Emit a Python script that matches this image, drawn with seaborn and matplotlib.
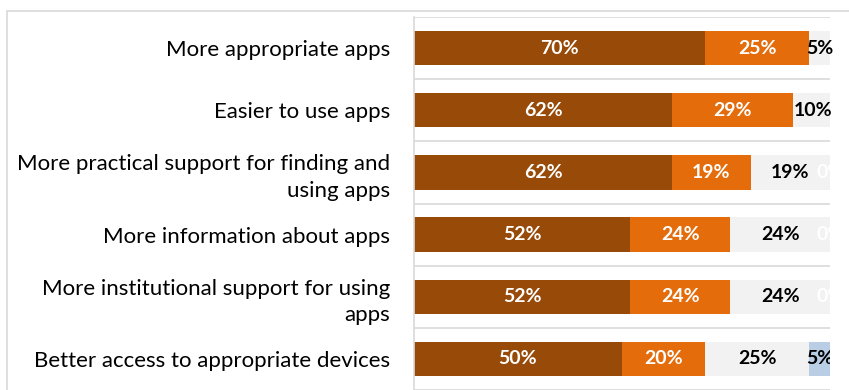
import matplotlib
matplotlib.use("Agg")
import matplotlib.pyplot as plt
import seaborn as sns
import pandas as pd
import numpy as np
from matplotlib.patches import Rectangle

categories = [
    "More appropriate apps",
    "Easier to use apps",
    "More practical support for finding and\nusing apps",
    "More information about apps",
    "More institutional support for using\napps",
    "Better access to appropriate devices",
]
s1 = [70, 62, 62, 52, 52, 50]
s2 = [25, 29, 19, 24, 24, 20]
s3 = [5, 10, 19, 24, 24, 25]
s4 = [0, 0, 0, 0, 0, 5]
labels4 = [None, None, "0%", "0%", "0%", "5%"]

colors = ["#984A08", "#E46C0A", "#F2F2F2", "#B9CDE5"]
text_colors = ["white", "white", "black", "black"]

sns.set_theme(style="white")
plt.rcParams["font.family"] = ["Lato", "DejaVu Sans"]

series = [s1, s2, s3, s4]
cum = np.cumsum(np.array(series, dtype=float), axis=0)

fig = plt.figure(figsize=(8.49, 3.90), dpi=100)
ax = fig.add_axes([414 / 849, 0.0, (830 - 414) / 849, 1 - 17 / 390])

# stacked by overlaying cumulative totals (largest first)
for i in range(3, -1, -1):
    df = pd.DataFrame({"cat": categories, "val": cum[i]})
    sns.barplot(data=df, y="cat", x="val", color=colors[i], orient="h",
                width=0.55, ax=ax, saturation=1, linewidth=0)

ax.set_xlim(0, 100)
ax.set_ylim(5.5, -0.5)
ax.set_xlabel("")
ax.set_ylabel("")
ax.set_xticks([])
for sp in ["top", "right", "bottom"]:
    ax.spines[sp].set_visible(False)
ax.spines["left"].set_color("#D9D9D9")
ax.spines["left"].set_linewidth(1.2)

for b in np.arange(-0.5, 6.0, 1.0):
    ax.axhline(b, color="#D9D9D9", lw=1.2, zorder=0)

ax.tick_params(axis="y", length=0, pad=17, labelsize=16, colors="black")
for t in ax.get_yticklabels():
    t.set_multialignment("right")
    t.set_linespacing(1.4)

# labels
for r in range(len(categories)):
    starts = [0] + list(cum[:-1, r])
    for i in range(4):
        v = series[i][r]
        center = starts[i] + v / 2
        if i < 3:
            txt = f"{v}%"
            ax.text(center, r, txt, ha="center", va="center", color=text_colors[i],
                    fontsize=14, fontweight="bold")
        else:
            if labels4[r] is None:
                continue
            col = "white" if v == 0 else "black"
            ax.text(center, r, labels4[r], ha="center", va="center", color=col,
                    fontsize=14, fontweight="bold", clip_on=True)

# outer chart border
fig.patches.append(Rectangle((7 / 849, -0.1), 1.2, 1 - 11 / 390 + 0.1,
                             transform=fig.transFigure, fill=False,
                             edgecolor="#D9D9D9", lw=1.2))

fig.savefig("out.png", dpi=100)
